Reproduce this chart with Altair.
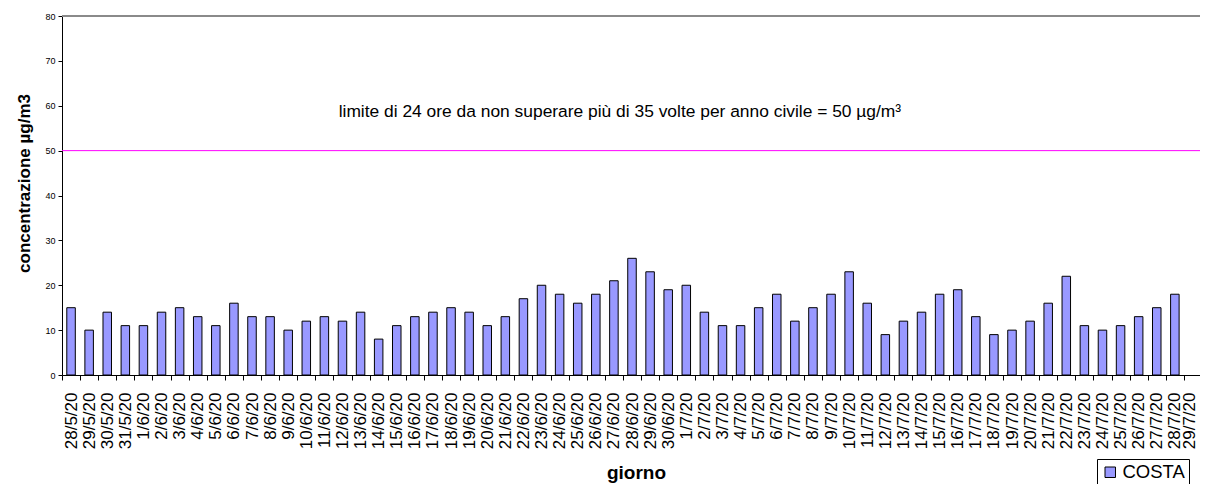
import altair as alt
import pandas as pd

giorni = [
    "28/5/20", "29/5/20", "30/5/20", "31/5/20",
    "1/6/20", "2/6/20", "3/6/20", "4/6/20", "5/6/20", "6/6/20", "7/6/20", "8/6/20",
    "9/6/20", "10/6/20", "11/6/20", "12/6/20", "13/6/20", "14/6/20", "15/6/20",
    "16/6/20", "17/6/20", "18/6/20", "19/6/20", "20/6/20", "21/6/20", "22/6/20",
    "23/6/20", "24/6/20", "25/6/20", "26/6/20", "27/6/20", "28/6/20", "29/6/20",
    "30/6/20",
    "1/7/20", "2/7/20", "3/7/20", "4/7/20", "5/7/20", "6/7/20", "7/7/20", "8/7/20",
    "9/7/20", "10/7/20", "11/7/20", "12/7/20", "13/7/20", "14/7/20", "15/7/20",
    "16/7/20", "17/7/20", "18/7/20", "19/7/20", "20/7/20", "21/7/20", "22/7/20",
    "23/7/20", "24/7/20", "25/7/20", "26/7/20", "27/7/20", "28/7/20", "29/7/20",
]
costa = [
    15, 10, 14, 11,
    11, 14, 15, 13, 11, 16, 13, 13,
    10, 12, 13, 12, 14, 8, 11,
    13, 14, 15, 14, 11, 13, 17,
    20, 18, 16, 18, 21, 26, 23,
    19,
    20, 14, 11, 11, 15, 18, 12, 15,
    18, 23, 16, 9, 12, 14, 18,
    19, 13, 9, 10, 12, 16, 22,
    11, 10, 11, 13, 15, 18, None,
]
serie = "COSTA"
limite = 50
testo_limite = "limite di 24 ore da non superare più di 35 volte per anno civile = 50 µg/m³"
giorno_testo = "27/6/20"
y_testo = 58.5

FONT = "Liberation Sans"
W, H = 1138, 359      # visible plot area (svg is 1192 x 476)
X_RANGE = 1140        # full category extent

df = pd.DataFrame({"giorno": giorni, "valore": costa, "serie": [serie] * len(giorni)})

xscale = alt.Scale(domain=giorni, paddingInner=0, paddingOuter=0, range=[0, X_RANGE])
yscale = alt.Scale(domain=[0, 80], nice=False)

bars = alt.Chart(df).mark_bar(
    stroke="black", strokeWidth=1, width=alt.RelativeBandSize(0.47)
).encode(
    x=alt.X(
        "giorno:N", sort=giorni, scale=xscale,
        axis=alt.Axis(
            title="giorno", labelAngle=-90, labelFontSize=17, labelFont=FONT,
            labelColor="black", labelPadding=12, labelAlign="right", labelBaseline="middle",
            labelOffset={"condition": {"test": "datum.value === '29/7/20'", "value": -3}, "value": 0},
            tickBand="extent", ticks=True, tickSize=5, tickColor="black",
            domainColor="black", labelOverlap=False,
            titleFont=FONT, titleFontSize=19, titleFontWeight="bold", titleColor="black",
            titleX=574, titleY=97, titleBaseline="middle",
        ),
    ),
    y=alt.Y(
        "valore:Q", scale=yscale,
        axis=alt.Axis(
            title="concentrazione µg/m3", values=[0, 10, 20, 30, 40, 50, 60, 70, 80],
            grid=False, labelFontSize=9, labelFont=FONT, labelColor="black",
            tickSize=4, tickColor="black", domainColor="black", labelPadding=3,
            titleFont=FONT, titleFontSize=17, titleFontWeight="bold", titleColor="black",
            titleX=-38, titleY=167, titleBaseline="middle", titleAngle=-90,
        ),
    ),
    color=alt.Color(
        "serie:N", scale=alt.Scale(domain=[serie], range=["#9999FF"]),
        legend=alt.Legend(
            title=None, orient="none", legendX=1035, legendY=443,
            symbolType="square", symbolSize=110, symbolStrokeColor="black",
            symbolStrokeWidth=1, labelFontSize=18.5, labelFont=FONT, labelColor="black",
            labelOffset=3, strokeColor="black", padding=4, symbolOpacity=1,
        ),
    ),
)

top_line = alt.Chart(pd.DataFrame({"v": [80]})).mark_rule(
    color="#8a8a8a", strokeWidth=2
).encode(y=alt.Y("v:Q", scale=yscale), x=alt.value(0), x2=alt.value(W))

limit_line = alt.Chart(pd.DataFrame({"v": [limite]})).mark_rule(
    color="#FF00FF", strokeWidth=1
).encode(y=alt.Y("v:Q", scale=yscale), x=alt.value(0), x2=alt.value(W))

limit_text = alt.Chart(
    pd.DataFrame({"giorno": [giorno_testo], "v": [y_testo], "t": [testo_limite]})
).mark_text(
    font=FONT, fontSize=17.4, color="black", align="center", baseline="middle", dx=6
).encode(
    x=alt.X("giorno:N", sort=giorni, scale=xscale),
    y=alt.Y("v:Q", scale=yscale),
    text="t:N",
)

chart = alt.layer(bars, top_line, limit_line, limit_text).properties(
    width=W, height=H,
    autosize=alt.AutoSizeParams(type="none"),
    padding={"left": 54, "top": 8, "right": 0, "bottom": 109},
).configure_view(stroke=None)

chart.save("out.html", embed_options={"renderer": "svg", "actions": False})
